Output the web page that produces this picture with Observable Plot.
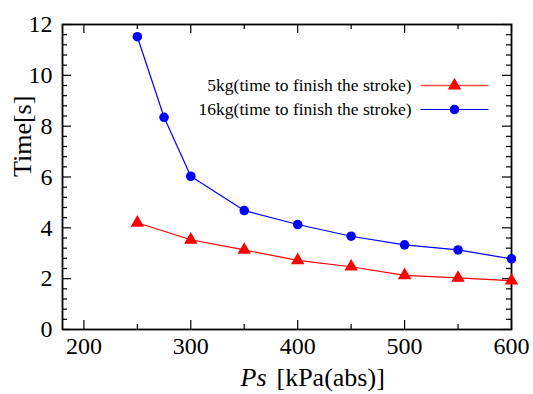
<!DOCTYPE html>
<html><head><meta charset="utf-8">
<script src="https://cdn.jsdelivr.net/npm/d3@7"></script>
<script src="https://cdn.jsdelivr.net/npm/@observablehq/plot@0.6"></script>
<style>
html,body{margin:0;padding:0;background:#fff}
#chart svg, #chart svg text { font-family: "Liberation Serif", "DejaVu Serif", serif !important; }
</style>
</head><body><div id="chart"></div>
<script>
// Data
const pressure5 = [250, 300, 350, 400, 450, 500, 550, 600];
const time5 = [4.2, 3.53, 3.13, 2.72, 2.47, 2.13, 2.03, 1.92];
const pressure16 = [250, 275, 300, 350, 400, 450, 500, 550, 600];
const time16 = [11.52, 8.35, 6.03, 4.68, 4.13, 3.67, 3.33, 3.13, 2.78];
const seriesNames = ["5kg(time to finish the stroke)", "16kg(time to finish the stroke)"];
const xMajor = [200, 300, 400, 500, 600];
const xMinor = [250, 350, 450, 550];
const yMajor = [0, 2, 4, 6, 8, 10, 12];
const yMinor = [0.4,0.8,1.2,1.6,2.4,2.8,3.2,3.6,4.4,4.8,5.2,5.6,6.4,6.8,7.2,7.6,8.4,8.8,9.2,9.6,10.4,10.8,11.2,11.6];

const rows5 = pressure5.map((p, i) => ({p, t: time5[i]}));
const rows16 = pressure16.map((p, i) => ({p, t: time16[i]}));

const W = 533, H = 394, mL = 62, mR = 22, mT = 24, mB = 65;
const pw = W - mL - mR, ph = H - mT - mB;
const big = 9, small = 5;
const font = "Liberation Serif";
const lineSym = {draw(ctx) { ctx.moveTo(-34, 0); ctx.lineTo(34, 0); }};

const chart = Plot.plot({
  width: W, height: H,
  marginLeft: mL, marginRight: mR, marginTop: mT, marginBottom: mB,
  style: {fontFamily: font, fontSize: "24px", color: "black", background: "white", overflow: "visible"},
  x: {domain: [180, 600]},
  y: {domain: [0, 12]},
  marks: [
    // inward ticks on all four sides
    Plot.tickY(yMajor, {y: d => d, insetRight: pw - big, stroke: "black", strokeWidth: 1.2}),
    Plot.tickY(yMajor, {y: d => d, insetLeft: pw - big, stroke: "black", strokeWidth: 1.2}),
    Plot.tickY(yMinor, {y: d => d, insetRight: pw - small, stroke: "black", strokeWidth: 1.2}),
    Plot.tickY(yMinor, {y: d => d, insetLeft: pw - small, stroke: "black", strokeWidth: 1.2}),
    Plot.tickX(xMajor, {x: d => d, insetTop: ph - big, stroke: "black", strokeWidth: 1.2}),
    Plot.tickX(xMajor, {x: d => d, insetBottom: ph - big, stroke: "black", strokeWidth: 1.2}),
    Plot.tickX(xMinor, {x: d => d, insetTop: ph - small, stroke: "black", strokeWidth: 1.2}),
    Plot.tickX(xMinor, {x: d => d, insetBottom: ph - small, stroke: "black", strokeWidth: 1.2}),
    Plot.frame({stroke: "black", strokeWidth: 1.8}),
    Plot.axisX({ticks: xMajor, tickSize: 0, tickPadding: 7, tickFormat: d => String(d), label: null, fontSize: 24, fontFamily: font}),
    Plot.axisY({ticks: yMajor, tickSize: 0, tickPadding: 10, tickFormat: d => String(d), label: null, fontSize: 24, fontFamily: font}),
    // data
    Plot.line(rows5, {x: "p", y: "t", stroke: "#ff0000", strokeWidth: 1.2}),
    Plot.dot(rows5, {x: "p", y: "t", symbol: "triangle", r: 5, fill: "#ff0000", stroke: "none"}),
    Plot.line(rows16, {x: "p", y: "t", stroke: "#0000ff", strokeWidth: 1.2}),
    Plot.dot(rows16, {x: "p", y: "t", symbol: "circle", r: 4.8, fill: "#0000ff", stroke: "none"}),
    // axis titles
    Plot.text(["Ps"], {frameAnchor: "bottom", dx: -20.5, dy: 47.7, textAnchor: "end", lineAnchor: "middle", fontStyle: "italic", fontSize: 26, fontFamily: font}),
    Plot.text(["[kPa(abs)]"], {frameAnchor: "bottom", dx: -10.5, dy: 47.7, textAnchor: "start", lineAnchor: "middle", fontSize: 26, fontFamily: font}),
    Plot.text(["Time[s]"], {frameAnchor: "left", dx: -40, rotate: -90, lineAnchor: "middle", fontSize: 26, fontFamily: font}),
    // legend
    Plot.text([seriesNames[0]], {frameAnchor: "top-right", dx: -100, dy: 61, textAnchor: "end", lineAnchor: "middle", fontSize: 17.5, fontFamily: font}),
    Plot.text([seriesNames[1]], {frameAnchor: "top-right", dx: -100, dy: 85, textAnchor: "end", lineAnchor: "middle", fontSize: 17.5, fontFamily: font}),
    Plot.dot([seriesNames[0]], {frameAnchor: "top-right", dx: -57, dy: 61, symbol: lineSym, fill: "none", stroke: "#ff4d4d", strokeWidth: 1.6}),
    Plot.dot([seriesNames[1]], {frameAnchor: "top-right", dx: -57, dy: 85, symbol: lineSym, fill: "none", stroke: "#0000ff", strokeWidth: 1.2}),
    Plot.dot([seriesNames[0]], {frameAnchor: "top-right", dx: -57, dy: 61, symbol: "triangle", r: 5, fill: "#ff0000", stroke: "none"}),
    Plot.dot([seriesNames[1]], {frameAnchor: "top-right", dx: -57, dy: 85, symbol: "circle", r: 4.8, fill: "#0000ff", stroke: "none"})
  ]
});
document.getElementById("chart").append(chart);
</script>
</body></html>
